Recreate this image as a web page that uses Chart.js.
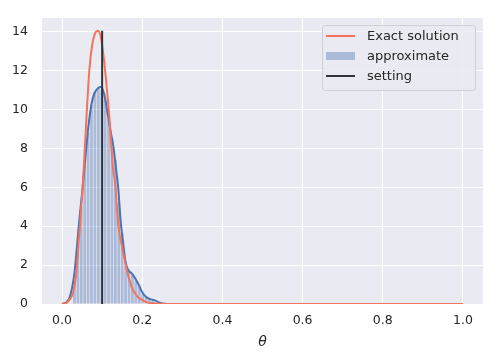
<!DOCTYPE html>
<html>
<head>
<meta charset="utf-8">
<script src="https://cdn.jsdelivr.net/npm/chart.js@4/dist/chart.umd.min.js"></script>
<style>
  html, body { margin: 0; padding: 0; background: #ffffff; }
  #wrap { width: 500px; height: 362px; }
</style>
</head>
<body>
<div id="wrap"><canvas id="c" width="500" height="362"></canvas></div>
<script>
// ---- data ----
const exactTheta = [0.0, 0.01, 0.02, 0.027, 0.035, 0.043, 0.05, 0.056, 0.062, 0.068, 0.075, 0.082, 0.089, 0.096, 0.105, 0.112, 0.118, 0.127, 0.132, 0.140, 0.150, 0.159, 0.167, 0.175, 0.187, 0.200, 0.215, 0.235, 0.26, 0.4, 0.6, 0.8, 1.0];
const exactDensity = [0.0, 0.05, 0.25, 0.55, 1.5, 3.6, 5.6, 7.7, 10.0, 12.0, 13.3, 13.9, 14.05, 13.8, 12.5, 11.0, 9.6, 7.0, 6.3, 4.1, 2.9, 2.0, 1.3, 0.8, 0.4, 0.2, 0.07, 0.02, 0.0, 0.0, 0.0, 0.0, 0.0];

const kdeTheta = [0.0, 0.01, 0.02, 0.031, 0.037, 0.043, 0.05, 0.056, 0.063, 0.072, 0.08, 0.09, 0.097, 0.105, 0.112, 0.12, 0.128, 0.135, 0.14, 0.146, 0.152, 0.159, 0.167, 0.175, 0.183, 0.192, 0.2, 0.209, 0.22, 0.23, 0.24, 0.25, 0.26];
const kdeDensity = [0.02, 0.08, 0.4, 1.6, 2.9, 4.3, 5.7, 7.0, 8.6, 10.1, 10.8, 11.1, 11.15, 10.8, 10.0, 9.0, 8.1, 6.9, 6.0, 4.3, 3.2, 2.1, 1.7, 1.55, 1.3, 0.95, 0.6, 0.37, 0.25, 0.2, 0.1, 0.03, 0.0];

const histCenters = [0.031, 0.0395, 0.048, 0.0565, 0.065, 0.0735, 0.082, 0.0905, 0.099, 0.1075, 0.116, 0.1245, 0.133, 0.1415, 0.150, 0.1585, 0.167, 0.1755, 0.184, 0.1925, 0.201, 0.2095, 0.218, 0.2265];
const histHeights = [1.2, 3.0, 5.0, 7.1, 8.8, 10.2, 10.9, 11.1, 11.0, 10.5, 9.5, 8.4, 7.4, 5.2, 3.6, 2.2, 1.7, 1.5, 1.2, 0.9, 0.5, 0.35, 0.25, 0.15];

const settingTheta = [0.1, 0.1];
const settingDensity = [0.0, 14.05];

const xTickValues = [0.0, 0.2, 0.4, 0.6, 0.8, 1.0];
const yTickValues = [0, 2, 4, 6, 8, 10, 12, 14];
const xLabel = 'θ';
const legendLabels = ['Exact solution', 'approximate', 'setting'];

// ---- colours ----
const cExact = '#F2735E';
const cKde = '#4C72B0';
const cHist = 'rgba(76,114,176,0.4)';
const cSetting = '#30343B';

const toXY = (xs, ys) => xs.map((x, i) => ({ x: x, y: ys[i] }));

const bgPlugin = {
  id: 'bg',
  beforeDraw(chart) {
    const { ctx, chartArea: a } = chart;
    ctx.save();
    ctx.fillStyle = '#EAEAF2';
    ctx.fillRect(a.left, a.top, a.right - a.left, a.bottom - a.top);
    ctx.restore();
  }
};

const legendPlugin = {
  id: 'boxLegend',
  afterDraw(chart) {
    const ctx = chart.ctx;
    const bx = 322, by = 25, bw = 153, bh = 65;
    ctx.save();
    ctx.beginPath();
    ctx.roundRect(bx + 0.5, by + 0.5, bw, bh, 3);
    ctx.fillStyle = 'rgba(234,234,242,0.85)';
    ctx.fill();
    ctx.strokeStyle = 'rgba(204,204,210,0.9)';
    ctx.lineWidth = 1;
    ctx.stroke();
    const rows = [36, 56, 76];
    ctx.lineWidth = 2;
    ctx.strokeStyle = cExact;
    ctx.beginPath(); ctx.moveTo(326, rows[0]); ctx.lineTo(355, rows[0]); ctx.stroke();
    ctx.fillStyle = cHist;
    ctx.fillRect(326, rows[1] - 4, 29, 8);
    ctx.strokeStyle = cSetting;
    ctx.beginPath(); ctx.moveTo(326, rows[2]); ctx.lineTo(355, rows[2]); ctx.stroke();
    ctx.fillStyle = '#262626';
    ctx.font = '13px "DejaVu Sans"';
    ctx.textBaseline = 'middle';
    ctx.textAlign = 'left';
    legendLabels.forEach((t, i) => ctx.fillText(t, 367, rows[i] + 1));
    ctx.restore();
  }
};

new Chart(document.getElementById('c'), {
  type: 'bar',
  data: {
    datasets: [
      {
        type: 'line', label: legendLabels[2], data: toXY(settingTheta, settingDensity),
        borderColor: cSetting, borderWidth: 2, pointRadius: 0, order: 0
      },
      {
        type: 'line', label: legendLabels[0], data: toXY(exactTheta, exactDensity),
        borderColor: cExact, borderWidth: 2, pointRadius: 0, cubicInterpolationMode: 'monotone', order: 1
      },
      {
        type: 'line', label: 'kde', data: toXY(kdeTheta, kdeDensity),
        borderColor: cKde, borderWidth: 2, pointRadius: 0, cubicInterpolationMode: 'monotone', order: 2
      },
      {
        type: 'bar', label: legendLabels[1], data: toXY(histCenters, histHeights),
        backgroundColor: cHist, borderWidth: 0, barPercentage: 0.8, categoryPercentage: 1.0, order: 3
      }
    ]
  },
  options: {
    responsive: false,
    animation: false,
    devicePixelRatio: 1,
    layout: { padding: { top: 18, right: 17, left: 0, bottom: 0 } },
    plugins: { legend: { display: false }, tooltip: { enabled: false } },
    scales: {
      x: {
        type: 'linear', min: -0.05, max: 1.05, offset: false,
        afterBuildTicks(s) { s.ticks = xTickValues.map(v => ({ value: v })); },
        afterFit(s) { s.height = 58; s.paddingLeft = 0; s.paddingRight = 0; },
        grid: { color: '#ffffff', lineWidth: 1, drawTicks: false, offset: false },
        border: { display: false },
        ticks: { padding: 9, color: '#262626', font: { family: 'DejaVu Sans', size: 12.5 }, maxRotation: 0,
                 callback: v => Number(v).toFixed(1) },
        title: { display: true, text: xLabel, color: '#262626', padding: { top: 2, bottom: 11 },
                 font: { family: 'DejaVu Sans', size: 14, style: 'italic' } }
      },
      y: {
        type: 'linear', min: 0, max: 14.7,
        afterBuildTicks(s) { s.ticks = yTickValues.map(v => ({ value: v })); },
        afterFit(s) { s.width = 42; s.paddingTop = 0; s.paddingBottom = 0; },
        grid: { color: '#ffffff', lineWidth: 1, drawTicks: false },
        border: { display: false },
        ticks: { padding: 14, color: '#262626', font: { family: 'DejaVu Sans', size: 12.5 } }
      }
    }
  },
  plugins: [bgPlugin, legendPlugin]
});
</script>
</body>
</html>
